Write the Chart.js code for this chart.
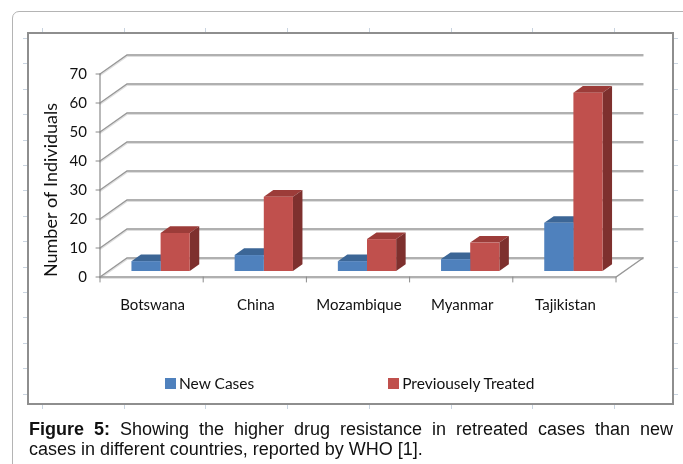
<!DOCTYPE html>
<html>
<head>
<meta charset="utf-8">
<title>Drug resistance in new and retreated cases</title>
<script src="https://cdn.jsdelivr.net/npm/chart.js@4.4.1/dist/chart.umd.min.js"></script>
<style>
  body { margin: 0; background: #fff; width: 683px; height: 464px; overflow: hidden; position: relative; }
  .frame { position: absolute; left: 12px; top: 11px; width: 700px; height: 500px; border: 1px solid #b4b4b4; border-radius: 7px; box-sizing: border-box; }
  .plot-box { position: absolute; left: 27px; top: 32px; width: 647px; height: 373px; border: 2px solid #8e8e8e; box-sizing: border-box; }
  .rule { position: absolute; background: #c9d4e0; }
  #chart { position: absolute; left: 0; top: 0; }
  #legend { position: absolute; left: 165px; top: 374px; display: flex; gap: 134px; font: 15.5px Lato, sans-serif; color: #111; }
  #legend .item { display: flex; align-items: center; }
  #legend .box { display: inline-block; width: 11px; height: 11px; margin-right: 3px; }
  .caption { position: absolute; left: 29px; width: 644px; font: 18px/20px "Liberation Sans", Arial, sans-serif; color: #111; white-space: nowrap; }
  .caption.first { top: 419px; text-align: justify; text-align-last: justify; }
  .caption.second { top: 439px; }
</style>
</head>
<body>
<div class="frame"></div>
<div class="plot-box"></div>
<canvas id="chart" width="683" height="464"></canvas>
<div id="legend"></div>
<div class="caption first"><b>Figure 5:</b> Showing the higher drug resistance in retreated cases than new</div>
<div class="caption second">cases in different countries, reported by WHO [1].</div>

<script>
const countries = ['Botswana', 'China', 'Mozambique', 'Myanmar', 'Tajikistan'];
const newCases = [3.4, 5.5, 3.4, 4.1, 16.6];
const previouslyTreated = [13.1, 25.6, 11.0, 9.8, 61.5];
const seriesNames = ['New Cases', 'Previousely Treated'];
const yTitle = 'Number of Individuals';

// offsets of the front edge / back wall relative to the plane the bars stand in
const FRONT = { dx: -9, dy: 6 };
const BACK = { dx: 18, dy: -13 };
const DEPTH = { dx: 9.5, dy: -6.7 };   // thickness of each column

// little ruler marks around the chart box
function addRule(left, top, w, h) {
  const d = document.createElement('div');
  d.className = 'rule';
  Object.assign(d.style, { left: left + 'px', top: top + 'px', width: w + 'px', height: h + 'px' });
  document.body.appendChild(d);
}
for (let i = 0; i < 8; i++) {
  addRule(42 + i * 81.7, 28, 1, 4);
  addRule(42 + i * 81.7, 405, 1, 4);
}
for (let i = 0; i < 15; i++) {
  addRule(23, 38 + i * 25.4, 4, 1);
  addRule(674, 38 + i * 25.4, 4, 1);
}

function path(ctx, pts, color, width) {
  ctx.beginPath();
  ctx.moveTo(pts[0][0], pts[0][1]);
  for (let i = 1; i < pts.length; i++) ctx.lineTo(pts[i][0], pts[i][1]);
  ctx.strokeStyle = color;
  ctx.lineWidth = width;
  ctx.stroke();
}

function fillPoly(ctx, pts, color) {
  ctx.beginPath();
  ctx.moveTo(pts[0][0], pts[0][1]);
  for (let i = 1; i < pts.length; i++) ctx.lineTo(pts[i][0], pts[i][1]);
  ctx.closePath();
  ctx.fillStyle = color;
  ctx.fill();
}

// walls, floor and the top/side faces of the columns
const box3d = {
  id: 'box3d',
  beforeDatasetsDraw(chart) {
    const { ctx, chartArea: a, scales: { x, y } } = chart;
    ctx.save();
    ctx.lineCap = 'round';

    const fx = a.left + FRONT.dx;
    const bx = a.left + BACK.dx;
    const ex = a.right + BACK.dx;

    y.ticks.forEach(t => {
      const py = y.getPixelForValue(t.value);
      const pts = [[fx, py + FRONT.dy], [bx, py + BACK.dy], [ex, py + BACK.dy]];
      path(ctx, pts.map(p => [p[0], p[1] + 1.5]), '#dedede', 1.2);
      path(ctx, pts, '#979797', 1.4);
      path(ctx, [[fx - 4, py + FRONT.dy], [fx, py + FRONT.dy]], '#8a8a8a', 1);
    });

    // value axis
    path(ctx, [[fx, y.getPixelForValue(y.max) + FRONT.dy], [fx, y.getPixelForValue(0) + FRONT.dy]], '#8a8a8a', 1.2);

    // front edge of the floor and its right side
    const fy = y.getPixelForValue(0) + FRONT.dy;
    const frx = a.right + FRONT.dx;
    path(ctx, [[fx, fy + 1.5], [frx, fy + 1.5]], '#e2e2e2', 1.2);
    path(ctx, [[fx, fy], [frx, fy], [ex, y.getPixelForValue(0) + BACK.dy]], '#979797', 1.4);

    // category tick marks
    const step = (a.right - a.left) / countries.length;
    for (let i = 0; i <= countries.length; i++) {
      const tx = a.left + FRONT.dx + i * step;
      path(ctx, [[tx, fy], [tx, fy + 5]], '#8a8a8a', 1);
    }

    // top and side faces go first so the front faces cover what is hidden
    chart.data.datasets.forEach((ds, i) => {
      chart.getDatasetMeta(i).data.forEach(bar => {
        const p = bar.getProps(['x', 'y', 'base', 'width'], true);
        const l = p.x - p.width / 2, r = p.x + p.width / 2;
        fillPoly(ctx, [[l, p.y], [r, p.y], [r + DEPTH.dx, p.y + DEPTH.dy], [l + DEPTH.dx, p.y + DEPTH.dy]], ds.topColor);
        fillPoly(ctx, [[r, p.y], [r + DEPTH.dx, p.y + DEPTH.dy], [r + DEPTH.dx, p.base + DEPTH.dy], [r, p.base]], ds.sideColor);
      });
    });
    ctx.restore();
  },
  afterDraw(chart) {
    const ctx = chart.ctx;
    ctx.save();
    ctx.translate(51, 190);
    ctx.rotate(-Math.PI / 2);
    ctx.font = '18px Lato, sans-serif';
    ctx.fillStyle = '#111';
    ctx.textAlign = 'center';
    ctx.textBaseline = 'middle';
    ctx.fillText(yTitle, 0, 0);
    ctx.restore();
  }
};

const chart = new Chart(document.getElementById('chart'), {
  type: 'bar',
  data: {
    labels: countries,
    datasets: [
      { label: seriesNames[0], data: newCases, backgroundColor: '#4f81bd', topColor: '#3c6696', sideColor: '#35598a' },
      { label: seriesNames[1], data: previouslyTreated, backgroundColor: '#c0504d', topColor: '#9c3c39', sideColor: '#7e302e' }
    ]
  },
  options: {
    responsive: false,
    animation: false,
    devicePixelRatio: 1,
    layout: { padding: { left: 0, top: 68, right: 58, bottom: 93 } },
    datasets: { bar: { categoryPercentage: 0.565, barPercentage: 1.0, borderWidth: 0 } },
    plugins: { legend: { display: false }, tooltip: { enabled: false } },
    scales: {
      x: {
        grid: { display: false, drawTicks: false },
        border: { display: false },
        ticks: { font: { family: 'Lato', size: 15 }, color: '#111', labelOffset: -8, padding: 25, maxRotation: 0 },
        afterFit(scale) { scale.height = 100; }
      },
      y: {
        min: 0,
        max: 70,
        grid: { display: false, drawTicks: false },
        border: { display: false },
        ticks: { stepSize: 10, font: { family: 'Lato', size: 15 }, color: '#111', labelOffset: 6, padding: 22 },
        afterFit(scale) { scale.width = 109; }
      }
    }
  },
  plugins: [box3d]
});

// legend built from the datasets
const legend = document.getElementById('legend');
chart.data.datasets.forEach(ds => {
  const item = document.createElement('div');
  item.className = 'item';
  const box = document.createElement('span');
  box.className = 'box';
  box.style.background = ds.backgroundColor;
  item.appendChild(box);
  item.appendChild(document.createTextNode(ds.label));
  legend.appendChild(item);
});
</script>
</body>
</html>
